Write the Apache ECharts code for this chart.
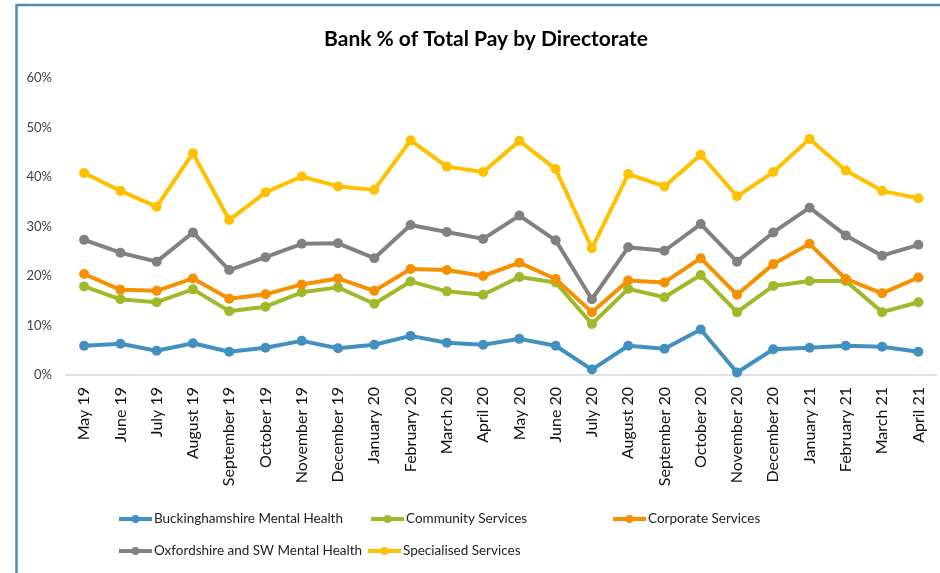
<!DOCTYPE html>
<html>
<head>
<meta charset="utf-8">
<script src="https://cdn.jsdelivr.net/npm/echarts@6/dist/echarts.min.js"></script>
<style>
html,body{margin:0;padding:0;background:#fff;}
#chart{width:940px;height:573px;}
</style>
</head>
<body>
<div id="chart"></div>
<script>
const categories = ['May 19','June 19','July 19','August 19','September 19','October 19','November 19','December 19','January 20','February 20','March 20','April 20','May 20','June 20','July 20','August 20','September 20','October 20','November 20','December 20','January 21','February 21','March 21','April 21'];
const yTicks = [0,10,20,30,40,50,60];
const bucks = [5.9,6.3,4.9,6.4,4.7,5.5,6.9,5.4,6.1,7.9,6.5,6.1,7.3,5.9,1.1,5.9,5.3,9.2,0.5,5.2,5.5,5.9,5.7,4.7];
const community = [17.9,15.3,14.7,17.3,12.9,13.8,16.7,17.7,14.4,18.9,16.9,16.2,19.8,18.7,10.3,17.4,15.7,20.2,12.7,18.0,19.0,19.0,12.7,14.7];
const corporate = [20.4,17.2,17.0,19.5,15.4,16.3,18.3,19.5,17.0,21.4,21.2,20.0,22.7,19.4,12.7,19.1,18.7,23.6,16.2,22.4,26.5,19.4,16.5,19.7];
const oxford = [27.3,24.7,22.9,28.8,21.2,23.8,26.5,26.6,23.6,30.3,28.9,27.5,32.2,27.2,15.3,25.8,25.1,30.5,22.9,28.8,33.8,28.2,24.1,26.3];
const specialised = [40.8,37.2,34.0,44.8,31.3,36.9,40.1,38.1,37.4,47.4,42.1,41.0,47.3,41.6,25.6,40.6,38.1,44.5,36.1,41.0,47.7,41.3,37.2,35.7];
const seriesNames = ['Buckinghamshire Mental Health','Community Services','Corporate Services','Oxfordshire and SW Mental Health','Specialised Services'];
const seriesData = [bucks, community, corporate, oxford, specialised];
const colors = ['#4190C0','#9EBA2A','#F79000','#818181','#FFC000'];

const chart = echarts.init(document.getElementById('chart'));
const font = 'Lato, "Open Sans", sans-serif';
const legendPos = [[117,512],[369,512],[611,512],[117,544],[366,544]];

const option = {
  backgroundColor:'#fff',
  animation:false,
  title:{
    text:'Bank % of Total Pay by Directorate',
    left:481, top:24, textAlign:'center',
    textStyle:{fontFamily:font,fontWeight:'bold',fontSize:21,color:'#000'}
  },
  grid:{left:66,right:3.5,top:78,bottom:198,containLabel:false},
  legend: seriesNames.map((n,i)=>({
    data:[n], left:legendPos[i][0], top:legendPos[i][1],
    itemWidth:33, itemHeight:10, itemGap:0,
    lineStyle:{width:4},
    textStyle:{fontFamily:font,fontSize:13.5,color:'#222',padding:[0,0,0,-3]},
    padding:0
  })),
  xAxis:{
    type:'category', data:categories, boundaryGap:true,
    axisTick:{show:false},
    axisLine:{lineStyle:{color:'#d9d9d9',width:1.5}},
    axisLabel:{rotate:90,interval:0,margin:12,fontFamily:font,fontSize:16,color:'#111'}
  },
  yAxis:{
    type:'value', min:yTicks[0], max:yTicks[yTicks.length-1], interval:10,
    splitLine:{show:false}, axisLine:{show:false}, axisTick:{show:false},
    axisLabel:{formatter:'{value}%',margin:14,fontFamily:font,fontSize:13,color:'#404040'}
  },
  graphic:[
    {type:'line',shape:{x1:16.5,y1:5,x2:940,y2:5},style:{stroke:'#4a8bbd',lineWidth:2.5},silent:true},
    {type:'line',shape:{x1:16.5,y1:4,x2:16.5,y2:573},style:{stroke:'#4a8bbd',lineWidth:2.5},silent:true}
  ],
  series: seriesNames.map((n,i)=>({
    name:n, type:'line', data:seriesData[i],
    symbol:'circle', symbolSize:10,
    lineStyle:{width:4,color:colors[i]},
    itemStyle:{color:colors[i]},
    z:2+i
  }))
};
chart.setOption(option);
</script>
</body>
</html>
